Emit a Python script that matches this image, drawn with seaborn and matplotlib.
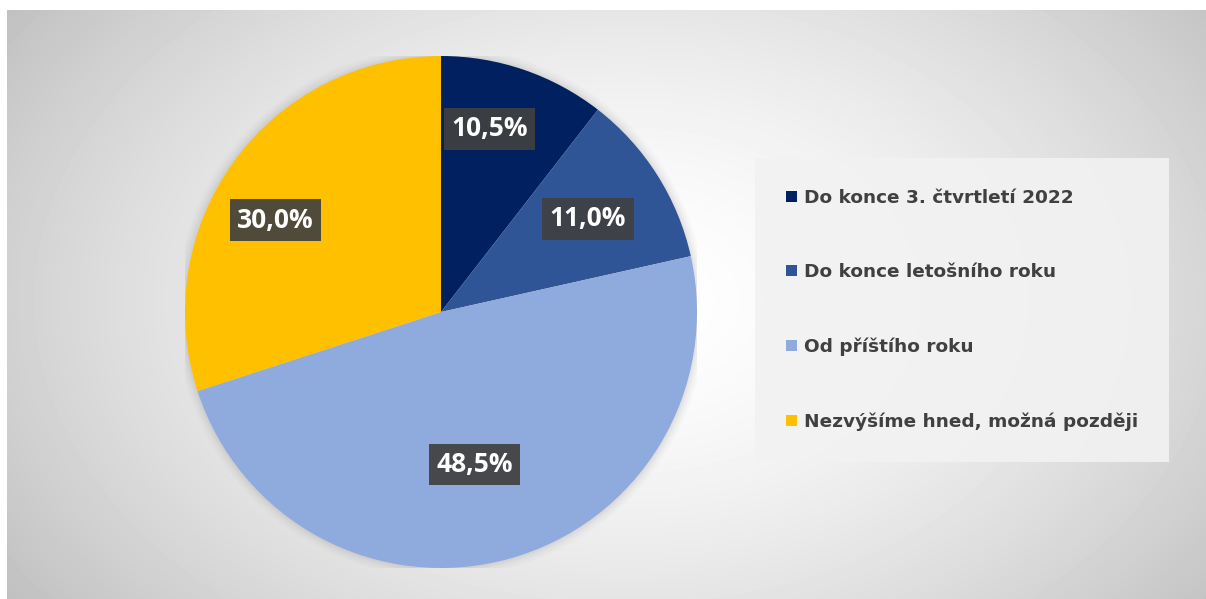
import numpy as np
import pandas as pd
import matplotlib
matplotlib.use("Agg")
import matplotlib.pyplot as plt
import seaborn as sns
from matplotlib.patches import Patch, Circle

# ==========================================================
# Data
# ==========================================================

categories = [
    "Do konce 3. čtvrtletí 2022",
    "Do konce letošního roku",
    "Od příštího roku",
    "Nezvýšíme hned, možná později",
]
shares = [10.5, 11.0, 48.5, 30.0]
colors = ["#002060", "#2F5597", "#8FAADC", "#FFC000"]

df = pd.DataFrame({"category": categories, "share": shares})

# ==========================================================
# Style
# ==========================================================

sns.set_style("white")
plt.rcParams["font.family"] = ["DejaVu Sans"]

fig = plt.figure(figsize=(12.06, 5.99), dpi=100)
fig.patch.set_facecolor("white")

# radial grey background
bg = fig.add_axes([7 / 1206, 0, 1 - 7 / 1206, 1 - 10 / 599])
yy, xx = np.mgrid[0:589, 0:1199]
rr = np.sqrt(((xx - 620) / 760) ** 2 + ((yy - 290) / 520) ** 2)
vals = 1 - 0.25 * np.clip(rr, 0, 1) ** 1.6
bg.imshow(vals, cmap="gray", vmin=0, vmax=1, aspect="auto",
          interpolation="bilinear")
bg.set_axis_off()

# ==========================================================
# Pie
# ==========================================================

ax = fig.add_axes([185 / 1206, 31 / 599, 512 / 1206, 512 / 599])

# soft glow around the pie
for r, a in zip([1.035, 1.025, 1.015, 1.007], [0.03, 0.04, 0.05, 0.06]):
    ax.add_patch(Circle((0, 0), r, facecolor="#707070", edgecolor="none",
                        alpha=a, zorder=0))

wedges, texts, autotexts = ax.pie(
    df["share"],
    colors=colors,
    startangle=90,
    counterclock=False,
    radius=1,
    autopct=lambda p: f"{p:.1f}%".replace(".", ","),
    pctdistance=0.7,
    wedgeprops=dict(edgecolor="none", linewidth=0),
)

# move labels a bit like the original best-fit placement
label_dist = [0.74, 0.68, 0.61, 0.74]
label_shift = [4, 0, -3, 7]
for w, t, d, s in zip(wedges, autotexts, label_dist, label_shift):
    ang = np.deg2rad((w.theta1 + w.theta2) / 2 + s)
    t.set_position((d * np.cos(ang), d * np.sin(ang)))
    t.set_color("white")
    t.set_fontsize(19)
    t.set_fontweight("bold")
    t.set_fontfamily(["Open Sans", "DejaVu Sans"])
    t.set_bbox(dict(boxstyle="square,pad=0.28", facecolor="#404040",
                    edgecolor="none", alpha=0.92))

ax.set_xlim(-1, 1)
ax.set_ylim(-1, 1)
ax.set_aspect("equal")
ax.set_axis_off()

# ==========================================================
# Legend
# ==========================================================

handles = [Patch(facecolor=c, edgecolor="none") for c in colors]
leg = fig.legend(
    handles,
    categories,
    loc="center left",
    bbox_to_anchor=(755 / 1206, 1 - 310 / 599),
    frameon=True,
    fancybox=False,
    facecolor="#F2F2F2",
    edgecolor="none",
    fontsize=13.3,
    labelspacing=3.05,
    handlelength=0.55,
    handleheight=0.55,
    handletextpad=0.4,
    borderpad=1.7,
    borderaxespad=0,
)
leg.get_frame().set_alpha(0.9)
for t in leg.get_texts():
    t.set_color("#404040")
    t.set_fontweight("bold")

fig.savefig("out.png", dpi=100)
